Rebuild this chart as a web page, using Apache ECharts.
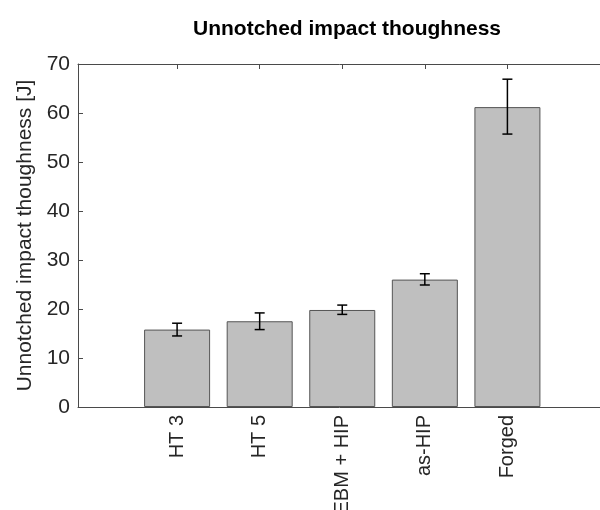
<!DOCTYPE html>
<html><head><meta charset="utf-8">
<script src="https://cdn.jsdelivr.net/npm/echarts@6/dist/echarts.min.js"></script>
<style>html,body{margin:0;padding:0;background:#fff}#c{width:600px;height:510px}</style>
</head><body><div id="c"></div>
<script>
const categories = ['HT 3', 'HT 5', 'EBM + HIP', 'as-HIP', 'Forged'];
const positions = [1, 2, 3, 4, 5];
const means = [15.8, 17.5, 19.8, 26.0, 61.2];
const errLow = [14.5, 15.8, 18.9, 24.9, 55.7];
const errHigh = [17.1, 19.2, 20.8, 27.2, 66.9];
const yTicks = [0, 10, 20, 30, 40, 50, 60, 70];

const chart = echarts.init(document.getElementById('c'), null, {renderer: 'canvas'});
const font = 'Liberation Sans, Arial, Helvetica, sans-serif';
const axisColor = '#4a4a4a';
const textColor = '#262626';

chart.setOption({
  animation: false,
  title: {
    text: 'Unnotched impact thoughness',
    left: 342, textAlign: 'center', top: 14,
    textStyle: {fontFamily: font, fontSize: 21, fontWeight: 'bold', color: '#000'}
  },
  grid: {left: 78, top: 64, width: 528.5, height: 343, containLabel: false, outerBoundsMode: 'none'},
  xAxis: [{
    type: 'value', min: -0.2, max: 6.2,
    axisLine: {show: true, onZero: false, lineStyle: {color: axisColor, width: 1}},
    splitLine: {show: false},
    axisTick: {show: true, inside: true, length: 5, customValues: positions, lineStyle: {color: axisColor}},
    axisLabel: {
      customValues: positions, rotate: 90, margin: 8,
      fontFamily: font, fontSize: 20, color: textColor,
      formatter: v => categories[positions.indexOf(Math.round(v))] || ''
    }
  }, {
    type: 'value', min: -0.2, max: 6.2, position: 'top',
    axisLine: {show: true, onZero: false, lineStyle: {color: axisColor, width: 1}},
    splitLine: {show: false},
    axisTick: {show: true, inside: true, length: 5, customValues: positions, lineStyle: {color: axisColor}},
    axisLabel: {show: false}
  }],
  yAxis: {
    type: 'value', min: 0, max: 70, interval: 10,
    name: 'Unnotched impact thoughness [J]', nameLocation: 'middle', nameGap: 42,
    nameTextStyle: {fontFamily: font, fontSize: 21, color: textColor},
    axisLine: {show: true, onZero: false, lineStyle: {color: axisColor, width: 1}},
    splitLine: {show: false},
    axisTick: {show: true, inside: true, length: 5, lineStyle: {color: axisColor}},
    axisLabel: {fontFamily: font, fontSize: 21, color: textColor, margin: 8,
      formatter: v => yTicks.includes(v) ? String(v) : ''}
  },
  series: [{
    type: 'bar', xAxisIndex: 0,
    data: positions.map((p, i) => [p, means[i]]),
    barWidth: 66,
    itemStyle: {color: '#bfbfbf', borderColor: '#555555', borderWidth: 1}
  }, {
    type: 'custom', xAxisIndex: 0,
    data: positions.map((p, i) => [p, errLow[i], errHigh[i]]),
    renderItem: (params, api) => {
      const lo = api.coord([api.value(0), api.value(1)]);
      const hi = api.coord([api.value(0), api.value(2)]);
      const hw = 5;
      const style = {stroke: '#000', lineWidth: 1.5};
      return {type: 'group', children: [
        {type: 'line', shape: {x1: lo[0], y1: lo[1], x2: hi[0], y2: hi[1]}, style},
        {type: 'line', shape: {x1: lo[0]-hw, y1: lo[1], x2: lo[0]+hw, y2: lo[1]}, style},
        {type: 'line', shape: {x1: hi[0]-hw, y1: hi[1], x2: hi[0]+hw, y2: hi[1]}, style}
      ]};
    },
    z: 10
  }]
});
</script></body></html>
